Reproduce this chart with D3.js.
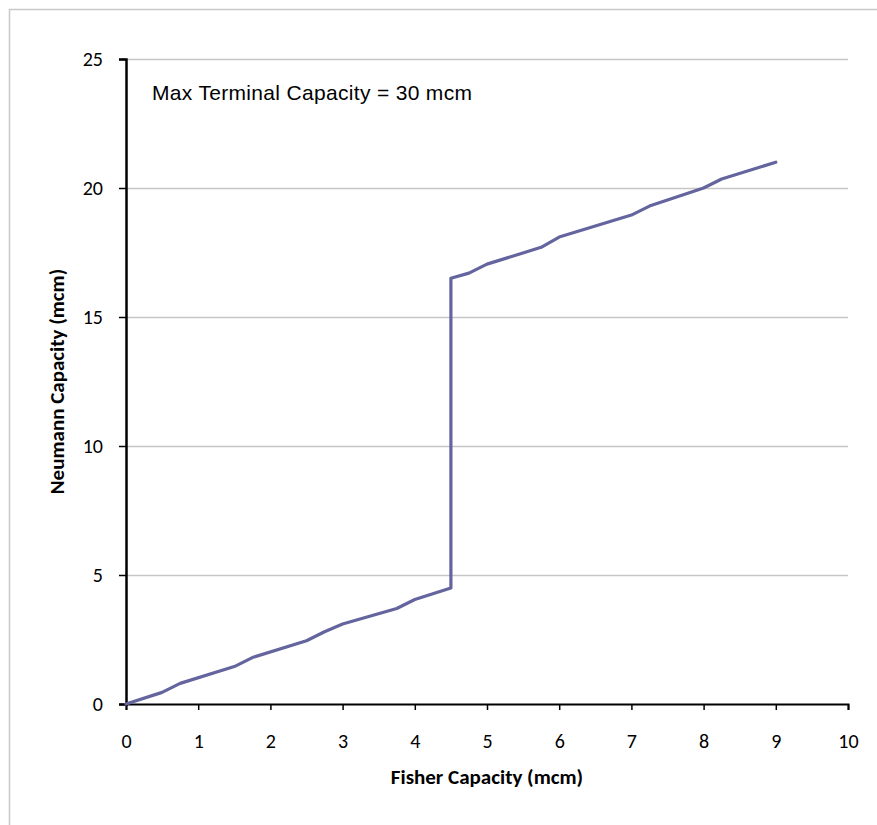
<!DOCTYPE html>
<html>
<head>
<meta charset="utf-8">
<script src="https://cdn.jsdelivr.net/npm/d3@7"></script>
<style>
  html, body { margin: 0; padding: 0; background: #ffffff; }
  svg { display: block; }
</style>
</head>
<body>
<svg id="chart" width="877" height="825"></svg>
<script>
// Data
const fisherCapacity = [0, 0.5, 0.75, 1.5, 1.75, 2.5, 2.75, 3, 3.75, 4, 4.5, 4.5, 4.75, 5, 5.75, 6, 7, 7.25, 8, 8.25, 9];
const neumannCapacity = [0, 0.45, 0.8, 1.45, 1.8, 2.45, 2.8, 3.1, 3.7, 4.05, 4.5, 16.5, 16.7, 17.05, 17.7, 18.1, 18.95, 19.3, 20, 20.35, 21];
const xTicks = [0, 1, 2, 3, 4, 5, 6, 7, 8, 9, 10];
const yTicks = [0, 5, 10, 15, 20, 25];
const xTitle = "Fisher Capacity (mcm)";
const yTitle = "Neumann Capacity (mcm)";
const annotation = "Max Terminal Capacity = 30 mcm";

const svg = d3.select("#chart");
const labelFont = "Carlito, Calibri, Lato, sans-serif";

// outer frame
svg.append("rect")
  .attr("x", 9.5).attr("y", 9.5)
  .attr("width", 900).attr("height", 900)
  .attr("fill", "none").attr("stroke", "#c8c8c8").attr("stroke-width", 1.5);

const x = d3.scaleLinear().domain([0, 10]).range([126, 848]);
const y = d3.scaleLinear().domain([0, 25]).range([704, 59]);

// gridlines
svg.append("g").selectAll("line")
  .data(yTicks.filter(d => d > 0))
  .join("line")
  .attr("x1", x(0)).attr("x2", x(10))
  .attr("y1", d => Math.round(y(d)) + 0.5).attr("y2", d => Math.round(y(d)) + 0.5)
  .attr("stroke", "#c6c6c6").attr("stroke-width", 1.5);

// y axis
const yAxis = svg.append("g")
  .attr("transform", `translate(${x(0)},0)`)
  .call(d3.axisLeft(y).tickValues(yTicks).tickSize(7).tickPadding(16).tickFormat(d3.format("d")));
yAxis.select(".domain").attr("stroke", "#000").attr("stroke-width", 2.5);
yAxis.selectAll(".tick line").attr("stroke", "#000").attr("stroke-width", 1.5);
yAxis.selectAll(".tick text").attr("font-family", labelFont).attr("font-size", 20).attr("fill", "#000");

// x axis
const xAxis = svg.append("g")
  .attr("transform", `translate(0,${y(0)})`)
  .call(d3.axisBottom(x).tickValues(xTicks).tickSize(6).tickPadding(24).tickFormat(d3.format("d")));
xAxis.select(".domain").attr("stroke", "#000").attr("stroke-width", 2);
xAxis.selectAll(".tick line").attr("stroke", "#000").attr("stroke-width", 1.5);
xAxis.selectAll(".tick text").attr("font-family", labelFont).attr("font-size", 20).attr("fill", "#000");

// line
const pts = fisherCapacity.map((f, i) => [f, neumannCapacity[i]]);
svg.append("path")
  .datum(pts)
  .attr("fill", "none")
  .attr("stroke", "#64649e")
  .attr("stroke-width", 3.2)
  .attr("stroke-linejoin", "round")
  .attr("stroke-linecap", "round")
  .attr("d", d3.line().x(d => x(d[0])).y(d => y(d[1])));

// annotation
svg.append("text")
  .attr("x", 152).attr("y", 100)
  .attr("font-family", "'Liberation Sans', Arial, sans-serif")
  .attr("font-size", 21)
  .attr("textLength", 320)
  .attr("lengthAdjust", "spacing")
  .attr("fill", "#000")
  .text(annotation);

// axis titles
svg.append("text")
  .attr("x", (x(0) + x(10)) / 2).attr("y", 784)
  .attr("text-anchor", "middle")
  .attr("font-family", labelFont).attr("font-weight", "bold").attr("font-size", 21)
  .attr("fill", "#000")
  .text(xTitle);

svg.append("text")
  .attr("transform", `translate(63.5,${(y(0) + y(25)) / 2}) rotate(-90)`)
  .attr("text-anchor", "middle")
  .attr("font-family", labelFont).attr("font-weight", "bold").attr("font-size", 21)
  .attr("fill", "#000")
  .text(yTitle);
</script>
</body>
</html>
